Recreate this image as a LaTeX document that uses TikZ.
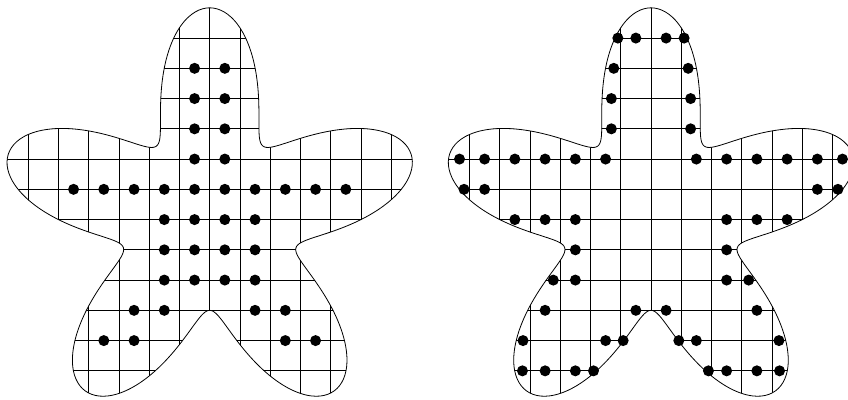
\documentclass[tikz,border=0pt]{standalone}
\begin{document}
\begin{tikzpicture}[x=30.25pt,y=30.25pt,
  outline/.style={line width=0.8pt,black},
  gridline/.style={line width=0.7pt,black},
  gridpt/.style={fill=black}]
\useasboundingbox (0,0) rectangle (28.033,13.19);
\def\starpath{plot[domain=0:359,samples=360,smooth cycle] (\x:{5+2*sin(5*\x)})}
% left star
\begin{scope}[shift={(6.932,5.931)}]
  \begin{scope}
    \clip \starpath;
    \draw[gridline,xstep=1,ystep=1] (-7,-7) grid (7,7);
  \end{scope}
  \draw[outline] \starpath;
  \foreach \yy/\xs in {5/{0.5}, 4/{0.5}, 3/{0.5}, 2/{0.5},
      1/{0.5,1.5,2.5,3.5,4.5}, 0/{0.5,1.5}, -1/{0.5,1.5}, -2/{0.5,1.5},
      -3/{1.5,2.5}, -4/{2.5,3.5}} {
    \foreach \xx in \xs {
      \fill[gridpt] (\xx,\yy) circle (0.182);
      \fill[gridpt] (-\xx,\yy) circle (0.182);
    }
  }
\end{scope}
% right star
\begin{scope}[shift={(21.52,5.931)}]
  \begin{scope}
    \clip \starpath;
    \draw[gridline,xstep=1,ystep=1] (-7,-7) grid (7,7);
  \end{scope}
  \draw[outline] \starpath;
  \foreach \yy/\xs in {6/{0.5,1.095}, 5/{1.23}, 4/{1.31}, 3/{1.31},
      2/{1.5,2.5,3.5,4.5,5.5,6.33}, 1/{5.5,6.18}, 0/{2.5,3.5,4.5},
      -1/{2.5}, -2/{2.5,3.23}, -3/{0.5,3.5}, -4/{0.92,1.5,4.23},
      -5/{1.9,2.5,3.5,4.25}} {
    \foreach \xx in \xs {
      \fill[gridpt] (\xx,\yy) circle (0.182);
      \fill[gridpt] (-\xx,\yy) circle (0.182);
    }
  }
\end{scope}
\end{tikzpicture}
\end{document}
